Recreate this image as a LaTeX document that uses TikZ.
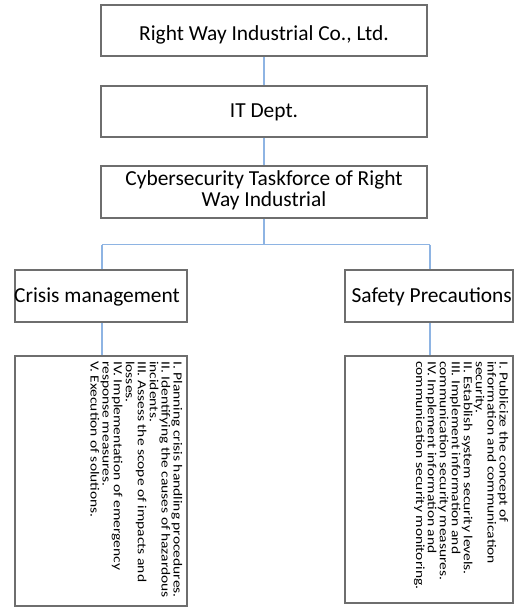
\documentclass[tikz,border=0pt]{standalone}
\usepackage{fontspec}
\setmainfont{Carlito}
\usepackage{graphicx}
\definecolor{boxgray}{RGB}{110,110,110}
\definecolor{linkblue}{RGB}{142,180,227}
\begin{document}
\begin{tikzpicture}[x=1pt,y=-1pt,
  orgbox/.style={draw=boxgray,line width=1.8pt,fill=white,inner sep=0pt},
  link/.style={draw=linkblue,line width=1.5pt},
  bigtext/.style={font=\fontsize{21.4}{21}\selectfont,inner sep=0pt},
  smalltext/.style={font=\fontsize{15.5}{14}\selectfont,inner sep=0pt,rotate=-90,anchor=north west}]
\useasboundingbox (0,0) rectangle (522,608);
% boxes
\node[orgbox,minimum width=326pt,minimum height=51pt] (top) at (264,30.5) {};
\node[orgbox,minimum width=326pt,minimum height=51pt] (it) at (264,111.5) {};
\node[orgbox,minimum width=326pt,minimum height=52pt] (cyber) at (264,192) {};
\node[orgbox,minimum width=172pt,minimum height=52pt] (crisis) at (101,296) {};
\node[orgbox,minimum width=168pt,minimum height=52pt] (safety) at (429,296) {};
\node[orgbox,minimum width=172pt,minimum height=250pt] (crisislist) at (101,481) {};
\node[orgbox,minimum width=168pt,minimum height=247pt] (safetylist) at (429,479.5) {};
% connectors
\coordinate (split) at (264,244.5);
\coordinate (splitL) at (102,244.5);
\coordinate (splitR) at (430,244.5);
\draw[link] (top.south) -- (it.north);
\draw[link] (it.south) -- (cyber.north);
\draw[link] (cyber.south) -- (split);
\draw[link] (splitL) -- (splitR);
\draw[link] (splitL) -- (splitL |- crisis.north);
\draw[link] (splitR) -- (splitR |- safety.north);
\draw[link] (splitL |- crisis.south) -- (splitL |- crisislist.north);
\draw[link] (splitR |- safety.south) -- (splitR |- safetylist.north);
% texts
\node[bigtext,anchor=base] (t1) at (264,40.5) {Right Way Industrial Co., Ltd.};
\node[bigtext,anchor=base] (t2) at (264,117.3) {IT Dept.};
\node[bigtext,anchor=base] (t3a) at (264,185) {Cybersecurity Taskforce of Right};
\node[bigtext,anchor=base] (t3b) at (264,206) {Way Industrial};
\node[bigtext,anchor=base west] (t4) at (14,302) {Crisis management};
\node[bigtext,anchor=base east] (t5) at (512,302) {Safety Precautions};
\node[smalltext] (l1) at (182.5,361) {\scalebox{1}[0.8]{\begin{tabular}{@{}l@{}}
I. Planning crisis handling procedures.\\
II. Identifying the causes of hazardous\\
incidents.\\
III. Assess the scope of impacts and\\
losses.\\
IV. Implementation of emergency\\
response measures.\\
V. Execution of solutions.
\end{tabular}}};
\node[smalltext] (l2) at (508.5,361) {\scalebox{1}[0.8]{\begin{tabular}{@{}l@{}}
I. Publicize the concept of\\
information and communication\\
security.\\
II. Establish system security levels.\\
III. Implement information and\\
communication security measures.\\
IV. Implement information and\\
communication security monitoring.
\end{tabular}}};
\end{tikzpicture}
\end{document}
